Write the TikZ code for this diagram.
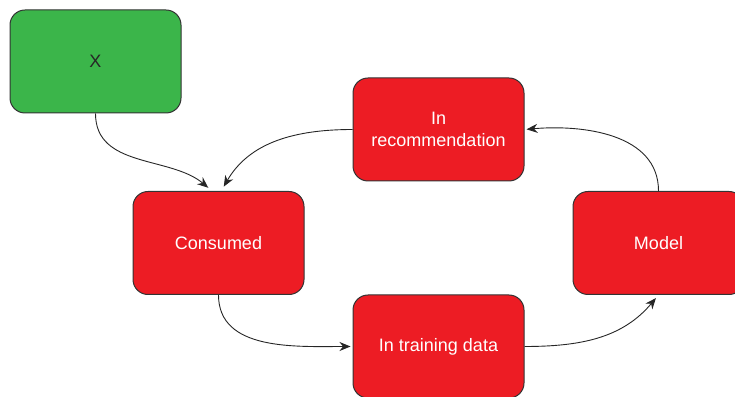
\documentclass[tikz,border=0pt]{standalone}
\usepackage{fontspec}
\setmainfont{Liberation Sans}
\usetikzlibrary{arrows.meta,positioning}
\definecolor{boxred}{RGB}{237,28,36}
\definecolor{boxgreen}{RGB}{59,181,74}
\definecolor{edgegray}{RGB}{51,51,51}

\begin{document}
\begin{tikzpicture}[
		x=1pt, y=1pt,
		font=\fontsize{18}{22}\selectfont,
		% Node styles
		stage/.style={
			rectangle, rounded corners=15pt,
			draw=edgegray, line width=1pt, fill=boxred,
			text=white, align=center,
			minimum width=171pt, minimum height=103pt, inner sep=4pt
		},
		source/.style={stage, fill=boxgreen, text=black!85},
		arr/.style={-{Stealth[length=11pt,width=9pt]}, line width=0.9pt, black!85}
	]
	\useasboundingbox (0,0) rectangle (735,396);
	
	%% ─── FEEDBACK LOOP ───────────────────────────────────────
	\node[source] (x)        at (95.5,334.5) {X};
	\node[stage]  (consumed) at (218.5,153)  {Consumed};
	\node[stage]  (rec)      at (438.5,266.5) {In\\recommendation};
	\node[stage]  (train)    at (438.5,49.5) {In training data};
	\node[stage]  (model)    at (658.5,153)  {Model};
	
	\draw[arr, shorten >=5pt] (x.south) to[out=-90, in=140] (consumed.97);
	\draw[arr, shorten >=5pt] (rec.west) to[out=180, in=60] (consumed.87);
	\draw[arr, shorten >=2pt] (consumed.south) to[out=-90, in=180] (train.west);
	\draw[arr, shorten >=4pt] (train.east) to[out=0, in=-130] (model.south);
	\draw[arr, shorten >=2pt] (model.north) to[out=90, in=5] (rec.east);
	
\end{tikzpicture}
\end{document}
